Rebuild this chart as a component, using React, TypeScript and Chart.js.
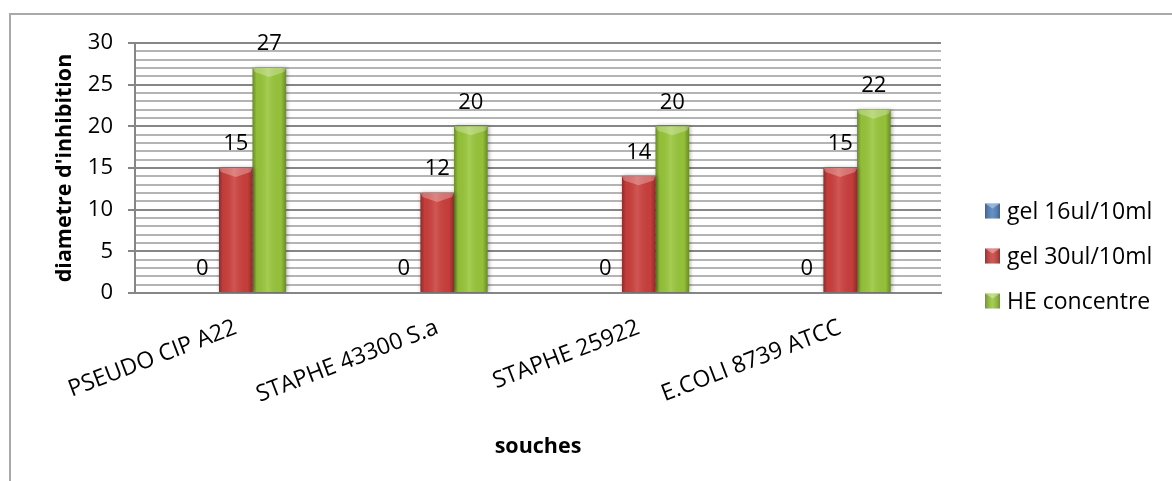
import React, { useEffect, useRef } from 'react';
import { Chart, registerables } from 'chart.js';

Chart.register(...registerables);

// Strains tested and inhibition diameters per treatment
const categories = ['PSEUDO CIP A22', 'STAPHE 43300 S.a', 'STAPHE 25922', 'E.COLI 8739 ATCC'];
const gel16Values = [0, 0, 0, 0];
const gel30Values = [15, 12, 14, 15];
const heValues = [27, 20, 20, 22];

const seriesNames = ['gel 16ul/10ml', 'gel 30ul/10ml', 'HE concentre'];
const seriesColors = ['#4f81bd', '#cb3f3c', '#98c63a'];

const yMin = 0;
const yMax = 30;
const yMajorStep = 5;

const FONT = "'Open Sans', 'DejaVu Sans', sans-serif";
const MAJOR_GRID = '#868686';
const MINOR_GRID = '#b4b4b4';

// Shading on each bar plus the value written above it
const bevelPlugin = {
  id: 'bevelAndValues',
  beforeDatasetsDraw(chart: any) {
    const c = chart.ctx;
    c.save();
    c.shadowColor = 'rgba(0,0,0,0.35)';
    c.shadowBlur = 4;
    c.shadowOffsetX = 1;
    c.shadowOffsetY = 0;
  },
  afterDatasetsDraw(chart: any) {
    const c = chart.ctx;
    c.restore();
    chart.data.datasets.forEach((ds: any, di: number) => {
      const meta = chart.getDatasetMeta(di);
      meta.data.forEach((el: any) => {
        const { x, y, base, width } = el.getProps(['x', 'y', 'base', 'width'], true);
        const h = base - y;
        if (h <= 0.5) return;
        const l = x - width / 2;
        const r = x + width / 2;
        const g = c.createLinearGradient(l, 0, r, 0);
        g.addColorStop(0, 'rgba(0,0,0,0.30)');
        g.addColorStop(0.12, 'rgba(0,0,0,0.04)');
        g.addColorStop(0.45, 'rgba(255,255,255,0.12)');
        g.addColorStop(0.85, 'rgba(0,0,0,0.03)');
        g.addColorStop(1, 'rgba(0,0,0,0.30)');
        c.fillStyle = g;
        c.fillRect(l, y, width, h);
        const bh = Math.min(9, h);
        c.beginPath();
        c.moveTo(l, y);
        c.lineTo(r, y);
        c.lineTo(r - 2, y + bh * 0.45);
        c.lineTo(x, y + bh);
        c.lineTo(l + 2, y + bh * 0.45);
        c.closePath();
        c.fillStyle = 'rgba(255,255,255,0.28)';
        c.fill();
      });
    });

    c.save();
    c.font = `22px ${FONT}`;
    c.fillStyle = '#000';
    c.textAlign = 'center';
    c.textBaseline = 'middle';
    chart.data.datasets.forEach((ds: any, di: number) => {
      const meta = chart.getDatasetMeta(di);
      meta.data.forEach((el: any, i: number) => {
        const { x, y } = el.getProps(['x', 'y'], true);
        c.fillText(String(ds.data[i]), x, y - 24);
      });
    });
    c.restore();
  },
  afterDraw(chart: any) {
    // Legend to the right of the plot
    const c = chart.ctx;
    const boxX = chart.chartArea.right + 44;
    const textX = boxX + 22;
    const firstRow = 211;
    const rowStep = 45;
    const box = 15;
    c.save();
    c.font = `23px ${FONT}`;
    c.textAlign = 'left';
    c.textBaseline = 'middle';
    chart.data.datasets.forEach((ds: any, di: number) => {
      const cy = firstRow + di * rowStep;
      const top = cy - box / 2;
      c.fillStyle = ds.backgroundColor;
      c.fillRect(boxX, top, box, box);
      const g = c.createLinearGradient(boxX, 0, boxX + box, 0);
      g.addColorStop(0, 'rgba(0,0,0,0.25)');
      g.addColorStop(0.5, 'rgba(255,255,255,0.12)');
      g.addColorStop(1, 'rgba(0,0,0,0.25)');
      c.fillStyle = g;
      c.fillRect(boxX, top, box, box);
      c.beginPath();
      c.moveTo(boxX, top);
      c.lineTo(boxX + box, top);
      c.lineTo(boxX + box / 2, top + 5);
      c.closePath();
      c.fillStyle = 'rgba(255,255,255,0.35)';
      c.fill();
      c.fillStyle = '#000';
      c.fillText(ds.label, textX, cy + 1);
    });
    c.restore();
  },
};

export default function App() {
  const canvasRef = useRef<HTMLCanvasElement | null>(null);

  useEffect(() => {
    if (!canvasRef.current) return;
    const seriesValues = [gel16Values, gel30Values, heValues];
    const chart = new Chart(canvasRef.current, {
      type: 'bar',
      data: {
        labels: categories,
        datasets: seriesNames.map((name, i) => ({
          label: name,
          data: seriesValues[i],
          backgroundColor: seriesColors[i],
          borderWidth: 0,
          categoryPercentage: 0.5,
          barPercentage: 1,
        })),
      },
      options: {
        responsive: false,
        animation: false,
        layout: { padding: { left: 50, top: 43, right: 231, bottom: 0 } },
        plugins: {
          legend: { display: false },
          tooltip: { enabled: false },
        },
        scales: {
          x: {
            afterFit: (s: any) => {
              s.height = 188;
            },
            grid: { display: true, color: 'rgba(0,0,0,0)', drawTicks: false },
            border: { color: MAJOR_GRID, width: 2 },
            ticks: {
              autoSkip: false,
              maxRotation: 21,
              minRotation: 21,
              padding: 21,
              color: '#000',
              font: { family: FONT, size: 23 },
            },
            title: {
              display: true,
              text: 'souches',
              color: '#000',
              font: { family: FONT, size: 21.5, weight: 'bold', lineHeight: 1.2 },
              padding: { top: 0, bottom: 21 },
            },
          },
          y: {
            min: yMin,
            max: yMax,
            afterFit: (s: any) => {
              s.width = 85;
            },
            ticks: {
              stepSize: 1,
              autoSkip: false,
              padding: 15,
              color: '#000',
              font: { family: FONT, size: 22 },
              callback: (v: any) => (Number(v) % yMajorStep === 0 ? String(v) : ''),
            },
            grid: {
              color: (ctx: any) => (ctx.tick && ctx.tick.value % yMajorStep === 0 ? MAJOR_GRID : MINOR_GRID),
              lineWidth: 2,
              tickLength: 7,
              tickWidth: 2,
              tickColor: (ctx: any) =>
                ctx.tick && ctx.tick.value % yMajorStep === 0 ? MAJOR_GRID : 'rgba(0,0,0,0)',
            },
            border: { color: MAJOR_GRID, width: 2 },
            title: {
              display: true,
              text: "diametre d'inhibition",
              color: '#000',
              font: { family: FONT, size: 21.5, weight: 'bold', lineHeight: 1.2 },
              padding: { top: 2, bottom: 0 },
            },
          },
        },
      },
      plugins: [bevelPlugin],
    } as any);
    return () => chart.destroy();
  }, []);

  return (
    <div style={{ position: 'absolute', left: 0, top: 0, width: 1172, height: 481, background: '#fff' }}>
      <div
        style={{
          position: 'absolute',
          left: 9,
          top: 13,
          width: 1163,
          height: 468,
          borderTop: '2px solid #a9a9a9',
          borderLeft: '2px solid #a9a9a9',
          boxSizing: 'border-box',
        }}
      />
      <canvas
        ref={canvasRef}
        width={1172}
        height={481}
        style={{ position: 'absolute', left: 0, top: 0, width: 1172, height: 481 }}
      />
    </div>
  );
}
